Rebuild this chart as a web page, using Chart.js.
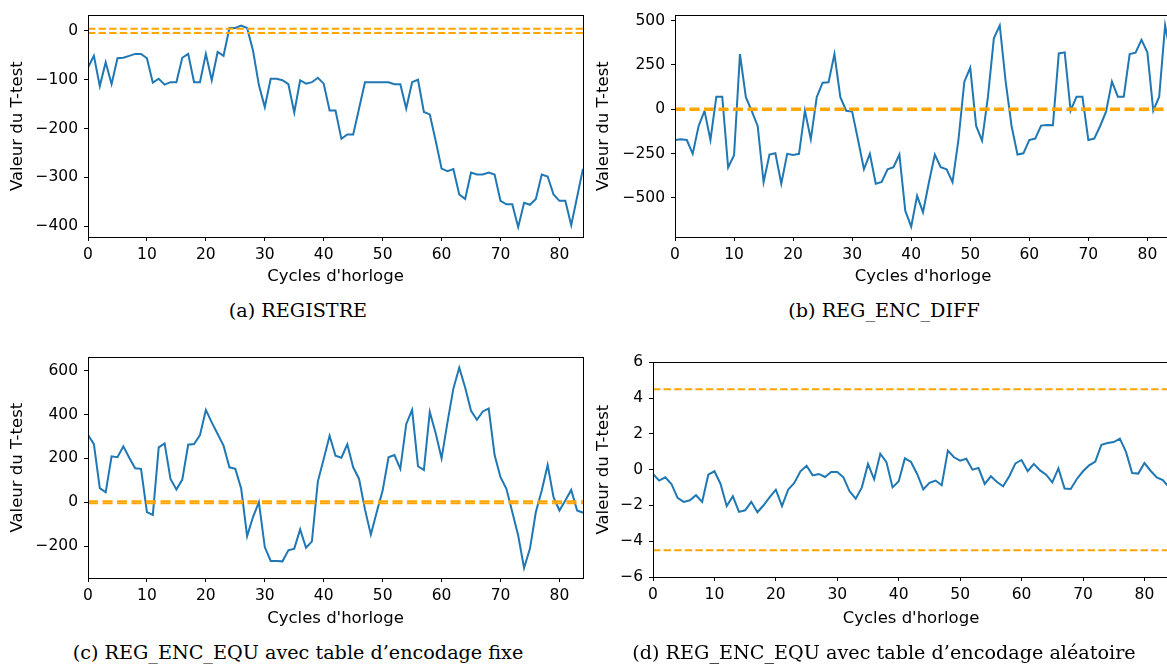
<!DOCTYPE html>
<html>
<head>
<meta charset="utf-8">
<script src="https://cdn.jsdelivr.net/npm/chart.js@4.4.0/dist/chart.umd.min.js"></script>
<style>
html, body { margin: 0; padding: 0; background: #fff; overflow: hidden; }
#page { position: relative; width: 1167px; height: 664px; overflow: hidden; }
canvas { position: absolute; }
.caption {
    position: absolute;
    transform: translate(-50%, -50%);
    font-family: 'DejaVu Serif', serif;
    font-size: 19.2px;
    color: #000;
    white-space: nowrap;
}
</style>
</head>
<body>
<div id="page">
    <canvas id="chartA" width="600" height="290" style="left:0px;top:0px"></canvas>
    <canvas id="chartB" width="595" height="290" style="left:586px;top:0px"></canvas>
    <canvas id="chartC" width="600" height="290" style="left:0px;top:342px"></canvas>
    <canvas id="chartD" width="593" height="285" style="left:586px;top:347px"></canvas>
    <div class="caption" style="left:298px;top:310px">(a) REGISTRE</div>
    <div class="caption" style="left:884px;top:310px">(b) REG_ENC_DIFF</div>
    <div class="caption" style="left:298px;top:652px">(c) REG_ENC_EQU avec table d’encodage fixe</div>
    <div class="caption" style="left:884px;top:652px">(d) REG_ENC_EQU avec table d’encodage aléatoire</div>
</div>
<script>
// clock cycles on the x axis
var cycles = Array.from({length: 85}, function (_, i) { return i; });
var xTicks = [0, 10, 20, 30, 40, 50, 60, 70, 80];

// +/- 4.5 threshold of the t-test
var threshold = [4.5, -4.5];

// (a) REGISTRE
var registre = [-75, -51, -113, -64, -109, -56, -55, -51, -47, -47,
    -56, -106, -98, -110, -105, -105, -55, -47, -105, -105,
    -47, -101, -43, -51, 6, 6, 11, 6, -40, -111,
    -156, -98, -98, -101, -109, -167, -101, -108, -105, -96,
    -108, -163, -163, -221, -212, -212, -159, -105, -105, -105,
    -105, -105, -109, -109, -159, -105, -100, -166, -171, -225,
    -282, -287, -283, -335, -344, -290, -294, -294, -290, -294,
    -348, -355, -355, -402, -352, -356, -344, -294, -298, -335,
    -348, -348, -398, -340, -282];
var registreTicks = [0, -100, -200, -300, -400];

// (b) REG_ENC_DIFF
var encDiff = [-173, -169, -173, -251, -94, -9, -173, 71, 71, -328,
    -259, 311, 68, -10, -94, -411, -255, -248, -420, -251,
    -257, -251, -8, -169, 68, 150, 152, 311, 68, -8,
    -13, -173, -338, -251, -420, -409, -338, -326, -255, -572,
    -662, -488, -580, -413, -255, -326, -338, -411, -173, 156,
    234, -94, -176, 71, 400, 473, 156, -94, -255, -248,
    -173, -165, -92, -88, -90, 315, 321, -8, 71, 71,
    -173, -165, -94, -13, 156, 71, 71, 311, 319, 392,
    321, -8, 71, 473, 300];
var encDiffTicks = [500, 250, 0, -250, -500];

// (c) REG_ENC_EQU, fixed table
var equFixe = [307, 265, 64, 45, 209, 205, 255, 203, 155, 152,
    -45, -58, 250, 268, 106, 58, 103, 262, 265, 306,
    421, 364, 311, 258, 159, 152, 61, -155, -68, 0,
    -205, -268, -268, -270, -220, -212, -124, -208, -179, 94,
    197, 303, 212, 203, 264, 159, 106, -33, -148, -45,
    53, 205, 215, 152, 356, 421, 164, 147, 412, 315,
    200, 364, 518, 614, 523, 417, 376, 414, 427, 215,
    114, 61, -45, -152, -300, -212, -45, 53, 170, 23,
    -38, 8, 56, -38, -48];
var equFixeTicks = [600, 400, 200, 0, -200];

// (d) REG_ENC_EQU, random table
var equAlea = [-0.24, -0.61, -0.43, -0.8, -1.58, -1.8, -1.71, -1.43, -1.8, -0.28,
    -0.09, -0.8, -2.04, -1.49, -2.36, -2.27, -1.8, -2.38, -1.99, -1.54,
    -1.12, -2.04, -1.12, -0.74, -0.09, 0.22, -0.32, -0.24, -0.41, -0.13,
    -0.13, -0.43, -1.21, -1.62, -0.99, 0.32, -0.54, 0.89, 0.42, -0.99,
    -0.65, 0.63, 0.43, -0.24, -1.1, -0.74, -0.61, -0.87, 1.06, 0.69,
    0.5, 0.61, 0.0, 0.09, -0.8, -0.37, -0.69, -0.93, -0.37, 0.35,
    0.54, -0.09, 0.32, -0.04, -0.28, -0.71, 0.07, -1.06, -1.08, -0.52,
    -0.09, 0.24, 0.45, 1.39, 1.49, 1.54, 1.73, 0.99, -0.19, -0.22,
    0.37, -0.06, -0.43, -0.58, -0.99];
var equAleaTicks = [6, 4, 2, 0, -2, -4, -6];

Chart.defaults.font.family = 'DejaVu Sans';
Chart.defaults.color = '#000';

// matplotlib style minus sign
function fmt(v) {
    return String(v).replace('-', '\u2212');
}

// black box all around the plot area
var frame = {
    id: 'frame',
    afterDraw: function (chart) {
        var a = chart.chartArea;
        var ctx = chart.ctx;
        ctx.save();
        ctx.strokeStyle = '#000';
        ctx.lineWidth = 1;
        ctx.strokeRect(Math.round(a.left) + 0.5, Math.round(a.top) + 0.5,
            Math.round(a.right - a.left), Math.round(a.bottom - a.top));
        ctx.restore();
    }
};

function drawPanel(id, values, yMin, yMax, yTicks, lineStyle, box) {
    var datasets = [];
    // orange thresholds first so they are drawn on top
    threshold.forEach(function (t) {
        datasets.push({
            data: [{x: cycles[0], y: t}, {x: cycles[cycles.length - 1], y: t}],
            borderColor: '#ffa500',
            borderWidth: lineStyle.width,
            borderDash: lineStyle.dash,
            pointRadius: 0
        });
    });
    datasets.push({
        data: values.map(function (v, i) { return {x: cycles[i], y: v}; }),
        borderColor: '#1f77b4',
        borderWidth: 2,
        pointRadius: 0,
        tension: 0
    });

    new Chart(document.getElementById(id), {
        type: 'line',
        data: {datasets: datasets},
        plugins: [frame],
        options: {
            responsive: false,
            animation: false,
            layout: {padding: {top: 15, right: box.right, left: 0, bottom: 0}},
            plugins: {legend: {display: false}, tooltip: {enabled: false}},
            scales: {
                x: {
                    type: 'linear',
                    min: 0,
                    max: 84,
                    afterBuildTicks: function (s) { s.ticks = xTicks.map(function (v) { return {value: v}; }); },
                    afterFit: function (s) { s.height = box.xh; },
                    ticks: {callback: fmt, autoSkip: false, maxRotation: 0, padding: 5, font: {size: 15.5}},
                    grid: {drawOnChartArea: false, drawTicks: true, tickLength: 4, color: '#000'},
                    border: {display: false},
                    title: {display: true, text: 'Cycles d\'horloge', font: {size: 16.5}, padding: {top: 0, bottom: 3}}
                },
                y: {
                    min: yMin,
                    max: yMax,
                    afterBuildTicks: function (s) { s.ticks = yTicks.map(function (v) { return {value: v}; }); },
                    afterFit: function (s) { s.width = box.yw; },
                    ticks: {callback: fmt, autoSkip: false, padding: 6, font: {size: 15.5}},
                    grid: {drawOnChartArea: false, drawTicks: true, tickLength: 4, color: '#000'},
                    border: {display: false},
                    title: {display: true, text: 'Valeur du T-test', font: {size: 16.5}, padding: {top: 8, bottom: 0}}
                }
            }
        }
    });
}

var thin = {width: 2, dash: [7.4, 3.2]};
var thick = {width: 2, dash: [10, 4.5]};

drawPanel('chartA', registre, -422, 32, registreTicks, thin, {yw: 88, xh: 53, right: 17});
drawPanel('chartB', encDiff, -720, 530, encDiffTicks, thick, {yw: 89, xh: 53, right: 10});
drawPanel('chartC', equFixe, -346, 661, equFixeTicks, thick, {yw: 88, xh: 54, right: 17});
drawPanel('chartD', equAlea, -6, 6, equAleaTicks, thin, {yw: 67, xh: 55, right: 10});
</script>
</body>
</html>
